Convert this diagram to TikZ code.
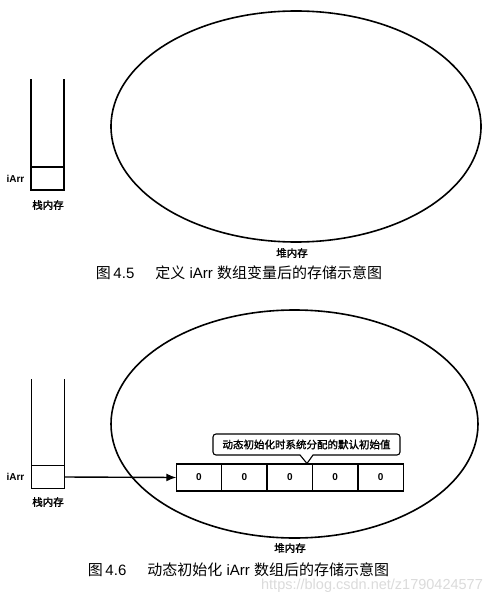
\documentclass[tikz,border=0pt]{standalone}
\usepackage{fontspec}
\setmainfont{Liberation Sans}
\newfontfamily\cjk{Noto Sans CJK SC}[AutoFakeBold=1.5]
\usetikzlibrary{arrows.meta,shapes.geometric}
\begin{document}
\begin{tikzpicture}[x=1pt,y=-1pt,line width=1.4pt,
  lbl/.style={font=\cjk\bfseries\fontsize{10.5}{12}\selectfont,inner sep=0},
  varname/.style={font=\bfseries\fontsize{10}{12}\selectfont,inner sep=0},
  captext/.style={font=\fontsize{15}{18}\selectfont,inner sep=0},
  heap/.style={draw,ellipse,inner sep=0,outer sep=0,line width=1.6pt},
  slot/.style={draw,minimum width=33pt,minimum height=23pt,inner sep=0,outer sep=0},
  cell/.style={draw,minimum width=45.4pt,minimum height=27pt,inner sep=0,outer sep=0,font=\bfseries\fontsize{10}{12}\selectfont},
  wm/.style={font=\fontsize{14.5}{16}\selectfont,text=black!14,inner sep=0}]
\useasboundingbox[fill=white] (0,0) rectangle (503,601);

% ---------- Figure 4.5 ----------
\node[heap,minimum width=370pt,minimum height=231pt] (heapA) at (296,126.5) {};
\node[slot] (slotA) at (47.5,178.5) {};
\coordinate (topAL) at (31,79);
\coordinate (topAR) at (64,79);
\draw (slotA.south west) -- (topAL);
\draw (slotA.south east) -- (topAR);
\node[varname] (varA) at (15.5,179) {iArr};
\node[lbl] (stackA) at (48,205) {栈内存};
\node[lbl] (heapAlbl) at (292,253) {堆内存};
\node[captext] (capA) at (239,273) {{\cjk 图}\,4.5\hspace{1.4em}{\cjk 定义} iArr {\cjk 数组变量后的存储示意图}};

% ---------- Figure 4.6 ----------
\node[heap,minimum width=367pt,minimum height=228pt] (heapB) at (294.5,424) {};
\node[slot] (slotB) at (48,477) {};
\coordinate (topBL) at (31.5,379);
\coordinate (topBR) at (64.5,379);
\draw (slotB.south west) -- (topBL);
\draw (slotB.south east) -- (topBR);
\node[varname] (varB) at (15.5,477) {iArr};
\node[lbl] (stackB) at (48,502) {栈内存};

\node[cell] (c1) at (199,477.5) {0};
\node[cell,anchor=west] (c2) at (c1.east) {0};
\node[cell,anchor=west] (c3) at (c2.east) {0};
\node[cell,anchor=west] (c4) at (c3.east) {0};
\node[cell,anchor=west] (c5) at (c4.east) {0};

\draw[-{Latex[length=10pt,width=8pt]}] (slotB.east) -- (c1.west);

\coordinate (tip) at (307,463.5);
\draw[line width=1.1pt] (tip) -- (300,455) [rounded corners=3pt] -- (213,455) -- (213,434) -- (400,434) -- (400,455) [sharp corners] -- (313,455) -- cycle;
\node[lbl] (note) at (306.5,444.5) {动态初始化时系统分配的默认初始值};

\node[lbl] (heapBlbl) at (290,548) {堆内存};
\node[captext] (capB) at (238.5,570) {{\cjk 图}\,4.6\hspace{1.4em}{\cjk 动态初始化} iArr {\cjk 数组后的存储示意图}};
\node[wm] (mark) at (372,586) {https://blog.csdn.net/z1790424577};
\end{tikzpicture}
\end{document}
